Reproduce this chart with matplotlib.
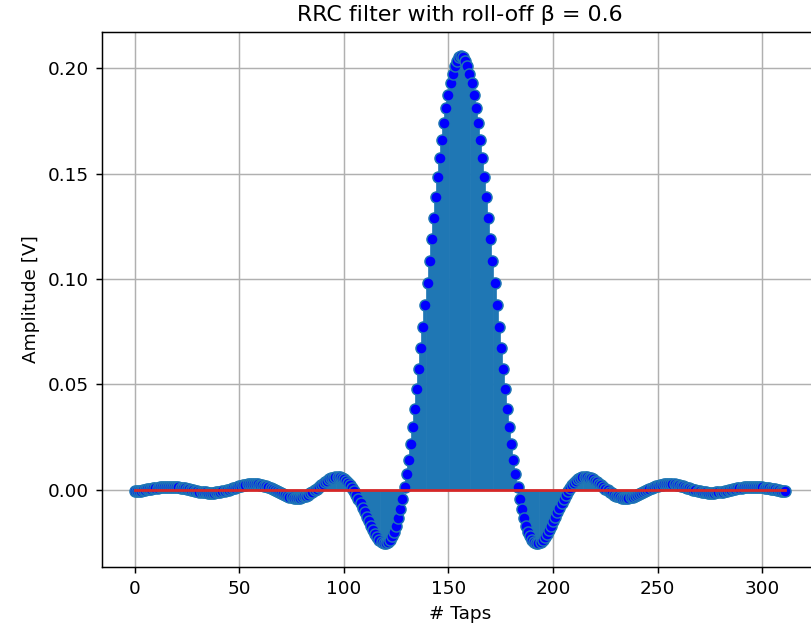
"""
Stem plot of the root-raised-cosine (RRC) pulse-shaping filter taps.
"""

import numpy as np
import matplotlib
matplotlib.use("Agg")
import matplotlib.pyplot as plt

# ----------------------------------------------------------------------------
# Data: filter taps (312 taps, index 0..311)
# ----------------------------------------------------------------------------
ROLL_OFF = 0.6

taps_left = [
    -0.00079, -0.00069, -0.00058, -0.00044, -0.00030, -0.00013, 0.00004, 0.00021, 0.00039, 0.00056,
    0.00072, 0.00087, 0.00101, 0.00112, 0.00122, 0.00128, 0.00132, 0.00133, 0.00130, 0.00125,
    0.00116, 0.00105, 0.00091, 0.00074, 0.00056, 0.00035, 0.00014, -0.00009, -0.00031, -0.00053,
    -0.00074, -0.00094, -0.00111, -0.00126, -0.00137, -0.00146, -0.00150, -0.00150, -0.00146, -0.00138,
    -0.00126, -0.00109, -0.00089, -0.00065, -0.00038, -0.00009, 0.00023, 0.00055, 0.00088, 0.00120,
    0.00151, 0.00180, 0.00206, 0.00228, 0.00247, 0.00260, 0.00267, 0.00269, 0.00265, 0.00254,
    0.00237, 0.00213, 0.00184, 0.00149, 0.00109, 0.00065, 0.00017, -0.00032, -0.00083, -0.00134,
    -0.00183, -0.00230, -0.00274, -0.00312, -0.00344, -0.00369, -0.00386, -0.00394, -0.00392, -0.00380,
    -0.00359, -0.00327, -0.00285, -0.00235, -0.00176, -0.00109, -0.00037, 0.00040, 0.00119, 0.00199,
    0.00277, 0.00352, 0.00421, 0.00481, 0.00531, 0.00569, 0.00591, 0.00597, 0.00585, 0.00553,
    0.00500, 0.00426, 0.00331, 0.00214, 0.00077, -0.00080, -0.00255, -0.00445, -0.00647, -0.00859,
    -0.01077, -0.01297, -0.01513, -0.01722, -0.01918, -0.02096, -0.02251, -0.02376, -0.02466, -0.02517,
    -0.02522, -0.02478, -0.02378, -0.02221, -0.02001, -0.01716, -0.01365, -0.00945, -0.00457, 0.00101,
    0.00725, 0.01415, 0.02168, 0.02979, 0.03843, 0.04756, 0.05711, 0.06700, 0.07717, 0.08752,
    0.09797, 0.10843, 0.11880, 0.12899, 0.13889, 0.14843, 0.15750, 0.16601, 0.17388, 0.18102,
    0.18738, 0.19287, 0.19744, 0.20106, 0.20366, 0.20523,
]
tap_peak = [0.20575]
taps_right = [
    0.20523, 0.20366, 0.20106, 0.19744, 0.19287, 0.18738, 0.18102, 0.17388, 0.16601, 0.15750,
    0.14843, 0.13889, 0.12899, 0.11880, 0.10843, 0.09797, 0.08752, 0.07717, 0.06700, 0.05711,
    0.04756, 0.03843, 0.02979, 0.02168, 0.01415, 0.00725, 0.00101, -0.00457, -0.00945, -0.01365,
    -0.01716, -0.02001, -0.02221, -0.02378, -0.02478, -0.02522, -0.02517, -0.02466, -0.02376, -0.02251,
    -0.02096, -0.01918, -0.01722, -0.01513, -0.01297, -0.01077, -0.00859, -0.00647, -0.00445, -0.00255,
    -0.00080, 0.00077, 0.00214, 0.00331, 0.00426, 0.00500, 0.00553, 0.00585, 0.00597, 0.00591,
    0.00569, 0.00531, 0.00481, 0.00421, 0.00352, 0.00277, 0.00199, 0.00119, 0.00040, -0.00037,
    -0.00109, -0.00176, -0.00235, -0.00285, -0.00327, -0.00359, -0.00380, -0.00392, -0.00394, -0.00386,
    -0.00369, -0.00344, -0.00312, -0.00274, -0.00230, -0.00183, -0.00134, -0.00083, -0.00032, 0.00017,
    0.00065, 0.00109, 0.00149, 0.00184, 0.00213, 0.00237, 0.00254, 0.00265, 0.00269, 0.00267,
    0.00260, 0.00247, 0.00228, 0.00206, 0.00180, 0.00151, 0.00120, 0.00088, 0.00055, 0.00023,
    -0.00009, -0.00038, -0.00065, -0.00089, -0.00109, -0.00126, -0.00138, -0.00146, -0.00150, -0.00150,
    -0.00146, -0.00137, -0.00126, -0.00111, -0.00094, -0.00074, -0.00053, -0.00031, -0.00009, 0.00014,
    0.00035, 0.00056, 0.00074, 0.00091, 0.00105, 0.00116, 0.00125, 0.00130, 0.00133, 0.00132,
    0.00128, 0.00122, 0.00112, 0.00101, 0.00087, 0.00072, 0.00056, 0.00039, 0.00021, 0.00004,
    -0.00013, -0.00030, -0.00044, -0.00058, -0.00069,
]

taps = np.array(taps_left + tap_peak + taps_right)
tap_idx = np.arange(len(taps))

# ----------------------------------------------------------------------------
DPI = 133
fig = plt.figure(figsize=(811 / DPI, 635 / DPI), dpi=DPI)
# axes runs a little past the right edge, as in the reference crop
ax = fig.add_axes([102 / 811, 1 - 567 / 635, 716 / 811, 535 / 635])

markerline, stemlines, baseline = ax.stem(tap_idx, taps, markerfmt="bo")
markerline.set_markeredgecolor("C0")     # light rim around each dot
markerline.set_markeredgewidth(0.8)
stemlines.set_linewidth(2.0)             # dense stems -> solid fill

ax.grid(True)
ax.set_title(f"RRC filter with roll-off \u03b2 = {ROLL_OFF}")
ax.set_xlabel("# Taps")
ax.set_ylabel("Amplitude [V]")

fig.savefig("out.png", dpi=DPI)
plt.close(fig)
